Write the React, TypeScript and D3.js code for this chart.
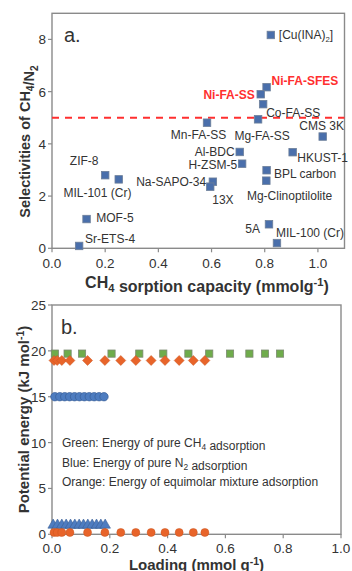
import React from "react";
import * as d3 from "d3";

// ---- panel a: CH4/N2 selectivity vs CH4 sorption capacity ----
const materials = [
  "[Cu(INA)2]", "Ni-FA-SFES", "Ni-FA-SS", "Co-FA-SS", "Mg-FA-SS", "Mn-FA-SS",
  "CMS 3K", "Al-BDC", "HKUST-1", "H-ZSM-5", "BPL carbon", "Mg-Clinoptilolite",
  "Na-SAPO-34", "13X", "5A", "MIL-100 (Cr)", "ZIF-8", "MIL-101 (Cr)", "MOF-5", "Sr-ETS-4",
];
const sorptionCapacity = [
  0.823, 0.807, 0.785, 0.794, 0.775, 0.583,
  1.018, 0.706, 0.905, 0.715, 0.807, 0.806,
  0.605, 0.595, 0.816, 0.846, 0.2, 0.251, 0.13, 0.102,
];
const selectivity = [
  8.17, 6.17, 5.9, 5.52, 4.94, 4.81,
  4.28, 3.69, 3.68, 3.24, 2.99, 2.59,
  2.55, 2.36, 0.92, 0.2, 2.8, 2.64, 1.12, 0.09,
];
const highlighted = ["Ni-FA-SFES", "Ni-FA-SS"];
const selectivityTarget = 5;
const xTicksA = [0, 0.2, 0.4, 0.6, 0.8, 1.0];
const yTicksA = [0, 2, 4, 6, 8];

// label placement (px offset from the marker, anchor)
const labelOffsets: [number, number, string][] = [
  [8, 0, "start"], [5, -6.6, "start"], [-6, 0.7, "end"], [3, 9, "start"], [4, 16, "middle"], [-8.5, 12.3, "middle"],
  [-1, -10.7, "middle"], [-5, 0, "end"], [4.7, 5, "start"], [-5, 1.3, "end"], [7.3, 3.7, "start"], [23.3, 15, "middle"],
  [-6.7, 0, "end"], [12.7, 13.3, "middle"], [-9, 4.7, "end"], [-1, -10.3, "start"], [-21, -14.6, "middle"], [-21.3, 13.4, "middle"],
  [9.7, -1, "start"], [6, -7, "start"],
];

// ---- panel b: potential energy vs loading ----
const loadingCH4 = [0.01, 0.054, 0.104, 0.206, 0.302, 0.385, 0.472, 0.544, 0.616, 0.683, 0.737, 0.789];
const energyCH4 = [19.7, 19.7, 19.7, 19.7, 19.7, 19.7, 19.7, 19.7, 19.7, 19.7, 19.7, 19.7];
const loadingMix = [0.007, 0.018, 0.034, 0.062, 0.123, 0.183, 0.238, 0.29, 0.343, 0.391, 0.44, 0.489, 0.529];
const energyMixHigh = [18.95, 18.95, 18.95, 18.95, 18.95, 18.95, 18.95, 18.95, 18.95, 18.95, 18.95, 18.95, 18.95];
const energyMixLow = [0.2, 0.2, 0.2, 0.2, 0.2, 0.2, 0.2, 0.2, 0.2, 0.2, 0.2, 0.2, 0.2];
const loadingN2 = [0.01, 0.027, 0.044, 0.061, 0.078, 0.095, 0.112, 0.129, 0.146, 0.163, 0.18];
const energyN2 = [15, 15, 15, 15, 15, 15, 15, 15, 15, 15, 15];
const loadingN2Low = [0.004, 0.019, 0.034, 0.049, 0.064, 0.079, 0.094, 0.109, 0.124, 0.139, 0.154, 0.169, 0.184];
const energyN2Low = [1, 1, 1, 1, 1, 1, 1, 1, 1, 1, 1, 1, 1];
const xTicksB = [0, 0.2, 0.4, 0.6, 0.8, 1.0];
const yTicksB = [0, 5, 10, 15, 20, 25];

const FONT = "'Liberation Sans', Arial, sans-serif";
const AXIS = "#8a8a8a";
const TXT = "#333";
const SQ_BLUE = "#4a6fab";
const GREEN = "#6fac4b";
const ORANGE = "#e8642a";
const BLUE = "#4d7cc0";
const RED = "#ff2f2f";

const Sub = ({ t, dy = 4 }: { t: string; dy?: number }) => (
  <>
    <tspan dy={dy} fontSize="0.7em">{t}</tspan>
    <tspan dy={-dy}>{""}</tspan>
  </>
);

const renderLabel = (name: string) => {
  if (name === "[Cu(INA)2]") {
    return (
      <>
        [Cu(INA)<tspan dy={3} fontSize="0.65em">2</tspan>
        <tspan dy={-3}>]</tspan>
      </>
    );
  }
  return name;
};

const App = () => {
  const W = 352;
  const H = 571;

  // panel a scales
  const xA = d3.scaleLinear().domain([0, 1.1]).range([52, 344.5]);
  const yA = d3.scaleLinear().domain([0, 9]).range([248.3, 13.3]);
  // panel b scales
  const xB = d3.scaleLinear().domain([0, 1]).range([52, 341]);
  const yB = d3.scaleLinear().domain([0, 25]).range([534.3, 305]);

  const fmt = d3.format(".1f");
  const sq = 7.5;

  const frame = (x: any, y: any) => {
    const [x0, x1] = x.range();
    const [y0, y1] = y.range();
    return (
      <rect x={x0} y={y1} width={x1 - x0} height={y0 - y1} fill="none" stroke={AXIS} strokeWidth={1.4} />
    );
  };

  const xAxis = (x: any, y: any, ticks: number[], labelY: number) => (
    <g>
      {ticks.map((t) => (
        <g key={t}>
          <line x1={x(t)} x2={x(t)} y1={y.range()[0]} y2={y.range()[0] + 4} stroke={AXIS} strokeWidth={1.2} />
          <text x={x(t)} y={labelY} textAnchor="middle" fontSize={13.5} fill={TXT}>{fmt(t)}</text>
        </g>
      ))}
    </g>
  );

  const yAxis = (x: any, y: any, ticks: number[]) => (
    <g>
      {ticks.map((t) => (
        <g key={t}>
          <line x1={x.range()[0] - 4} x2={x.range()[0]} y1={y(t)} y2={y(t)} stroke={AXIS} strokeWidth={1.2} />
          <text x={x.range()[0] - 6} y={y(t) + 5} textAnchor="end" fontSize={13.5} fill={TXT}>{t}</text>
        </g>
      ))}
    </g>
  );

  const diamond = (cx: number, cy: number, r: number) =>
    `M${cx},${cy - r}L${cx + r},${cy}L${cx},${cy + r}L${cx - r},${cy}Z`;
  const triangle = d3.symbol(d3.symbolTriangle, 48);

  return (
    <svg width={W} height={H} style={{ position: "absolute", left: 0, top: 0, background: "#fff" }} fontFamily={FONT}>
      {/* ---------- panel a ---------- */}
      {frame(xA, yA)}
      {xAxis(xA, yA, xTicksA, 268)}
      {yAxis(xA, yA, yTicksA)}
      <text x={64} y={42} fontSize={20} fill={TXT}>a.</text>
      <line
        x1={xA.range()[0]} x2={xA.range()[1]} y1={yA(selectivityTarget)} y2={yA(selectivityTarget)}
        stroke={RED} strokeWidth={1.8} strokeDasharray="7,6"
      />
      {materials.map((m, i) => {
        const cx = xA(sorptionCapacity[i]);
        const cy = yA(selectivity[i]);
        const [dx, dy, anchor] = labelOffsets[i];
        const hot = highlighted.includes(m);
        return (
          <g key={m}>
            <rect x={cx - sq / 2} y={cy - sq / 2} width={sq} height={sq} fill={SQ_BLUE} stroke="#6d7f99" strokeWidth={0.8} />
            <text
              x={cx + dx} y={cy + dy + 4.3} textAnchor={anchor as any}
              fontSize={12} fontWeight={hot ? "bold" : "normal"} fill={hot ? RED : TXT}
            >
              {renderLabel(m)}
            </text>
          </g>
        );
      })}
      <text x={207} y={287.5} textAnchor="middle" fontSize={16} fontWeight="bold" fill={TXT}>
        CH<Sub t="4" /> sorption capacity (mmolg<tspan dy={-6} fontSize="0.7em">-1</tspan><tspan dy={6}>)</tspan>
      </text>
      <text transform="translate(30,141.5) rotate(-90)" textAnchor="middle" fontSize={14.5} fontWeight="bold" fill={TXT}>
        Selectivities of CH<Sub t="4" />/N<Sub t="2" />
      </text>

      {/* ---------- panel b ---------- */}
      {frame(xB, yB)}
      {xAxis(xB, yB, xTicksB, 552.5)}
      {yAxis(xB, yB, yTicksB)}
      <text x={61} y={334} fontSize={20} fill={TXT}>b.</text>
      {loadingN2Low.map((l, i) => (
        <path key={"t" + i} d={triangle()!} transform={`translate(${xB(l)},${yB(energyN2Low[i])})`} fill={BLUE} stroke="#3a5f96" strokeWidth={0.6} />
      ))}
      {loadingMix.map((l, i) => (
        <circle key={"oc" + i} cx={xB(l)} cy={yB(energyMixLow[i])} r={4} fill={ORANGE} stroke="#c9541f" strokeWidth={0.5} />
      ))}
      {loadingN2.map((l, i) => (
        <circle key={"bc" + i} cx={xB(l)} cy={yB(energyN2[i])} r={4.2} fill={BLUE} stroke="#3a5f96" strokeWidth={0.7} />
      ))}
      {loadingCH4.map((l, i) => (
        <rect key={"g" + i} x={xB(l) - 3.6} y={yB(energyCH4[i]) - 3.6} width={7.2} height={7.2} fill={GREEN} stroke="#7c8a72" strokeWidth={0.8} />
      ))}
      {loadingMix.map((l, i) => (
        <path key={"od" + i} d={diamond(xB(l), yB(energyMixHigh[i]), 5)} fill={ORANGE} stroke="#c9541f" strokeWidth={0.5} />
      ))}
      <g fontSize={12} fill={TXT}>
        <text x={62} y={446.5}>Green: Energy of pure CH<Sub t="4" dy={3} /> adsorption</text>
        <text x={62} y={466.5}>Blue: Energy of pure N<Sub t="2" dy={3} /> adsorption</text>
        <text x={62} y={486}>Orange: Energy of equimolar mixture adsorption</text>
      </g>
      <text x={196.5} y={569.5} textAnchor="middle" fontSize={15} fontWeight="bold" fill={TXT}>
        Loading (mmol g<tspan dy={-5} fontSize="0.7em">-1</tspan><tspan dy={5}>)</tspan>
      </text>
      <text transform="translate(29,419.5) rotate(-90)" textAnchor="middle" fontSize={15} fontWeight="bold" fill={TXT}>
        Potential energy (kJ mol<tspan dy={-5} fontSize="0.7em">-1</tspan><tspan dy={5}>)</tspan>
      </text>
    </svg>
  );
};

export default App;
